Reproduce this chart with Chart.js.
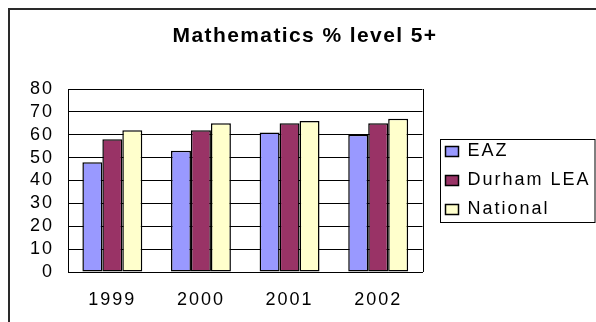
<!DOCTYPE html>
<html>
<head>
<meta charset="utf-8">
<script src="https://cdn.jsdelivr.net/npm/chart.js@4/dist/chart.umd.min.js"></script>
<style>
  html, body { margin: 0; padding: 0; background: #fff; }
  #wrap { width: 596px; height: 322px; position: relative; }
</style>
</head>
<body>
<div id="wrap"><canvas id="c" width="596" height="322"></canvas></div>
<script>
const chartTitle = 'Mathematics % level 5+';
const categories = ['1999', '2000', '2001', '2002'];
const seriesNames = ['EAZ', 'Durham LEA', 'National'];
const eazValues = [48, 53, 61, 60];
const durhamValues = [58, 62, 65, 65];
const nationalValues = [62, 65, 66, 67];
const yTickMin = 0;
const yTickMax = 80;
const yTickStep = 10;

const colors = ['#9999FF', '#993366', '#FFFFCC'];
const FONT = "'Liberation Sans', Arial, sans-serif";

const spacingPlugin = {
  id: 'spacing',
  beforeUpdate(chart) { chart.ctx.letterSpacing = '2px'; },
  beforeLayout(chart) { chart.ctx.letterSpacing = '2px'; },
  beforeDraw(chart) {
    const ctx = chart.ctx;
    ctx.letterSpacing = '2px';
    ctx.save();
    ctx.fillStyle = '#ffffff';
    ctx.fillRect(0, 0, chart.width, chart.height);
    ctx.fillStyle = '#2a2a2a';
    ctx.fillRect(8, 8, chart.width - 8, 2);
    ctx.fillRect(8, 8, 2, chart.height - 8);
    // chart title (real text)
    ctx.letterSpacing = '1.4px';
    ctx.fillStyle = '#000';
    ctx.font = "bold 21px " + FONT;
    ctx.textAlign = 'center';
    ctx.textBaseline = 'alphabetic';
    ctx.fillText(chartTitle, 305, 41.5);
    ctx.restore();
    ctx.letterSpacing = '2px';
  }
};

const framePlugin = {
  id: 'frame',
  afterLayout(chart) {
    const lg = chart.legend;
    if (lg) { lg.left += 12; lg.right = chart.width; lg.width = lg.right - lg.left; }
  },
  afterDatasetsDraw(chart) {
    const a = chart.chartArea, ctx = chart.ctx;
    ctx.save();
    ctx.strokeStyle = '#000';
    ctx.lineWidth = 1;
    ctx.beginPath();
    ctx.moveTo(Math.round(a.right) + 0.5, a.top);
    ctx.lineTo(Math.round(a.right) + 0.5, a.bottom);
    ctx.stroke();
    ctx.restore();
  },
  afterDraw(chart) {
    const lg = chart.legend, ctx = chart.ctx;
    if (!lg || !lg.legendHitBoxes.length) return;
    const hb = lg.legendHitBoxes;
    const first = hb[0], last = hb[hb.length - 1];
    ctx.save();
    ctx.strokeStyle = '#000';
    ctx.lineWidth = 1;
    const x0 = Math.round(first.left - 6) + 0.5;
    const y0 = Math.round(first.top - 4) + 0.5;
    const y1 = Math.round(last.top + last.height + 3) + 0.5;
    ctx.strokeRect(x0, y0, chart.width - 1 - x0, y1 - y0);
    ctx.restore();
  }
};

function makeDataset(label, data, color) {
  return {
    label: label,
    data: data,
    backgroundColor: color,
    borderColor: '#000',
    borderWidth: 1.5,
    borderSkipped: false,
    barPercentage: 1.0,
    categoryPercentage: 0.676
  };
}

new Chart(document.getElementById('c'), {
  type: 'bar',
  data: {
    labels: categories,
    datasets: [
      makeDataset(seriesNames[0], eazValues, colors[0]),
      makeDataset(seriesNames[1], durhamValues, colors[1]),
      makeDataset(seriesNames[2], nationalValues, colors[2])
    ]
  },
  options: {
    responsive: false,
    animation: false,
    devicePixelRatio: 1,
    layout: { padding: { left: 16, right: 38, top: 89, bottom: -5.6 } },
    plugins: {
      title: { display: false },
      legend: {
        display: true,
        position: 'right',
        fullSize: false,
        labels: {
          color: '#000',
          font: { family: FONT, size: 18 },
          boxWidth: 13,
          boxHeight: 10,
          padding: 11,
          generateLabels(chart) {
            return chart.data.datasets.map((ds, i) => ({
              text: ds.label,
              fillStyle: ds.backgroundColor,
              strokeStyle: '#000',
              lineWidth: 1.5,
              fontColor: '#000',
              datasetIndex: i,
              hidden: false
            }));
          }
        }
      },
      tooltip: { enabled: false }
    },
    scales: {
      x: {
        grid: { display: false, drawTicks: false },
        border: { display: true, color: '#000', width: 1 },
        ticks: { color: '#000', font: { family: FONT, size: 18 }, padding: 17, maxRotation: 0 }
      },
      y: {
        min: yTickMin,
        max: yTickMax,
        grid: { color: '#000', lineWidth: 1, drawTicks: false },
        border: { display: true, color: '#000', width: 1 },
        ticks: { color: '#000', font: { family: FONT, size: 18 }, padding: 14, stepSize: yTickStep, autoSkip: false }
      }
    }
  },
  plugins: [spacingPlugin, framePlugin]
});
</script>
</body>
</html>
